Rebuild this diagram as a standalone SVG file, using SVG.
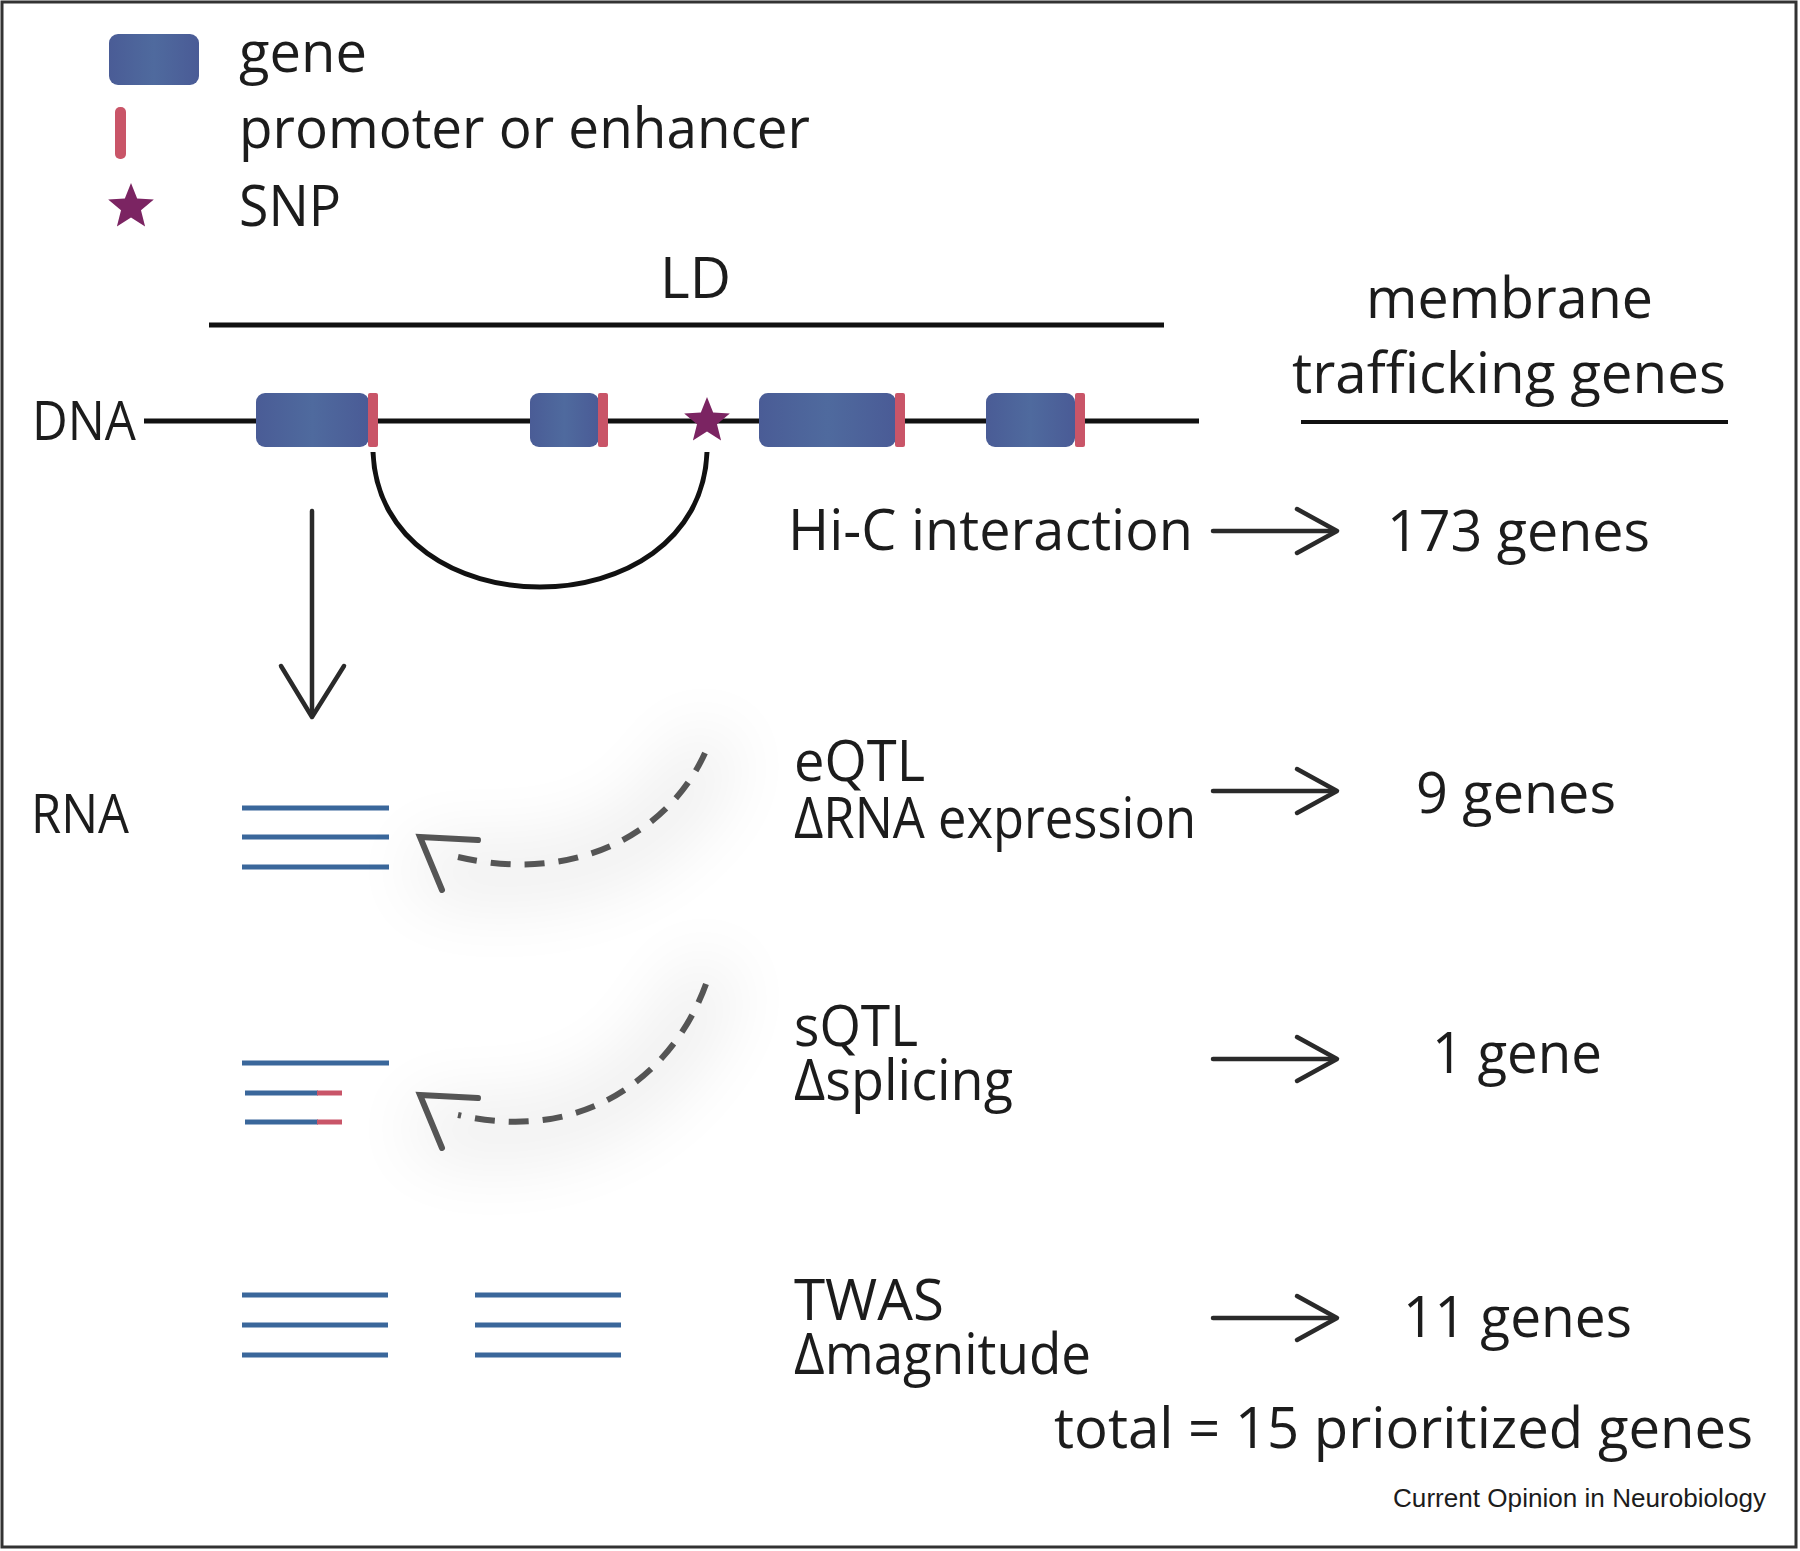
<svg xmlns="http://www.w3.org/2000/svg" width="1800" height="1551" viewBox="0 0 1800 1551">
<style>
.t{font-family:"Open Sans","Noto Sans","Liberation Sans",sans-serif;font-size:57px;fill:#1c1c1c}
.s{font-family:"Open Sans","Noto Sans","Liberation Sans",sans-serif;font-size:54px;fill:#1c1c1c}
.c{font-family:"Liberation Sans",Arial,sans-serif;font-size:25px;fill:#1c1c1c}
.blk{stroke:#111;stroke-width:5;fill:none}
.arr{stroke:#2a2a2a;stroke-width:4.5;fill:none;stroke-linecap:round;stroke-linejoin:round}
.gene{fill:url(#gg)}
.prom{fill:#c95568}
.snp{fill:#7b2462}
.rna{stroke:#3a679b;stroke-width:5}
.rnap{stroke:#c95568;stroke-width:5}
.dash{stroke:#555;stroke-width:6;fill:none;stroke-dasharray:20 14}
.ah{stroke:#555;stroke-width:6;fill:none;stroke-linecap:round;stroke-linejoin:miter}
.glow{stroke:#000;stroke-width:60;fill:none;opacity:0.07;filter:url(#blur);stroke-linecap:round}
</style>
<defs>
<linearGradient id="gg" x1="0" y1="0" x2="1" y2="0">
<stop offset="0" stop-color="#4a5c96"/>
<stop offset="0.5" stop-color="#4f6a9e"/>
<stop offset="1" stop-color="#4a5b96"/>
</linearGradient>
<polygon id="star" points="0,-24 6.17,-8.49 22.83,-7.42 9.99,3.24 14.11,19.42 0,10.5 -14.11,19.42 -9.99,3.24 -22.83,-7.42 -6.17,-8.49"/>
<filter id="blur" x="-100%" y="-100%" width="300%" height="300%"><feGaussianBlur stdDeviation="35"/></filter>
</defs>
<rect x="2" y="2" width="1794" height="1545" fill="#fff" stroke="#333" stroke-width="3"/>

<g id="legend">
<rect class="gene" x="109" y="34" width="90" height="51" rx="9"/>
<text class="t" x="239" y="72" textLength="128" lengthAdjust="spacingAndGlyphs">gene</text>
<rect class="prom" x="115" y="107" width="11" height="52" rx="5"/>
<text class="t" x="239" y="148" textLength="571" lengthAdjust="spacingAndGlyphs">promoter or enhancer</text>
<use href="#star" class="snp" x="131" y="207"/>
<text class="t" x="239" y="226" textLength="102" lengthAdjust="spacingAndGlyphs">SNP</text>
</g>

<g id="ld">
<text class="t" x="660" y="298" textLength="71" lengthAdjust="spacingAndGlyphs">LD</text>
<line class="blk" x1="209" y1="325" x2="1164" y2="325"/>
</g>

<g id="header">
<text class="t" x="1366" y="318" textLength="287" lengthAdjust="spacingAndGlyphs">membrane</text>
<text class="t" x="1292" y="393" textLength="434" lengthAdjust="spacingAndGlyphs">trafficking genes</text>
<line stroke="#111" stroke-width="4" x1="1301" y1="422" x2="1728" y2="422"/>
</g>

<g id="dna">
<text class="s" x="32" y="440" textLength="104" lengthAdjust="spacingAndGlyphs">DNA</text>
<line class="blk" x1="144" y1="421" x2="1199" y2="421"/>
<rect class="gene" x="256" y="393" width="113" height="54" rx="9"/>
<rect class="prom" x="368" y="393" width="10" height="54" rx="2"/>
<rect class="gene" x="530" y="393" width="69" height="54" rx="9"/>
<rect class="prom" x="598" y="393" width="10" height="54" rx="2"/>
<use href="#star" class="snp" x="707" y="421"/>
<rect class="gene" x="759" y="393" width="137" height="54" rx="9"/>
<rect class="prom" x="895" y="393" width="10" height="54" rx="2"/>
<rect class="gene" x="986" y="393" width="89" height="54" rx="9"/>
<rect class="prom" x="1075" y="393" width="10" height="54" rx="2"/>
</g>

<g id="rna-label">
<text class="s" x="31" y="833" textLength="98" lengthAdjust="spacingAndGlyphs">RNA</text>
</g>

<g id="eqtl-rna">
<line class="rna" x1="242" y1="808" x2="389" y2="808"/>
<line class="rna" x1="242" y1="837" x2="389" y2="837"/>
<line class="rna" x1="242" y1="867" x2="389" y2="867"/>
</g>

<g id="sqtl-rna">
<line class="rna" x1="242" y1="1063" x2="389" y2="1063"/>
<line class="rna" x1="245" y1="1093" x2="318" y2="1093"/>
<line class="rnap" x1="317" y1="1093" x2="342" y2="1093"/>
<line class="rna" x1="245" y1="1122" x2="318" y2="1122"/>
<line class="rnap" x1="317" y1="1122" x2="342" y2="1122"/>
</g>

<g id="twas-rna">
<line class="rna" x1="242" y1="1295" x2="388" y2="1295"/>
<line class="rna" x1="242" y1="1325" x2="388" y2="1325"/>
<line class="rna" x1="242" y1="1355" x2="388" y2="1355"/>
<line class="rna" x1="475" y1="1295" x2="621" y2="1295"/>
<line class="rna" x1="475" y1="1325" x2="621" y2="1325"/>
<line class="rna" x1="475" y1="1355" x2="621" y2="1355"/>
</g>

<g id="labels">
<text class="t" x="788" y="550" textLength="405" lengthAdjust="spacingAndGlyphs">Hi-C interaction</text>
<text class="t" x="1387" y="551" textLength="263" lengthAdjust="spacingAndGlyphs">173 genes</text>
<text class="t" x="794" y="781" textLength="131" lengthAdjust="spacingAndGlyphs">eQTL</text>
<text class="t" x="794" y="838" textLength="402" lengthAdjust="spacingAndGlyphs">ΔRNA expression</text>
<text class="t" x="1416" y="813" textLength="200" lengthAdjust="spacingAndGlyphs">9 genes</text>
<text class="t" x="794" y="1046" textLength="124" lengthAdjust="spacingAndGlyphs">sQTL</text>
<text class="t" x="794" y="1100" textLength="219" lengthAdjust="spacingAndGlyphs">Δsplicing</text>
<text class="t" x="1432" y="1073" textLength="170" lengthAdjust="spacingAndGlyphs">1 gene</text>
<text class="t" x="794" y="1320" textLength="150" lengthAdjust="spacingAndGlyphs">TWAS</text>
<text class="t" x="794" y="1374" textLength="297" lengthAdjust="spacingAndGlyphs">Δmagnitude</text>
<text class="t" x="1403" y="1337" textLength="229" lengthAdjust="spacingAndGlyphs">11 genes</text>
<text class="t" x="1054" y="1448" textLength="699" lengthAdjust="spacingAndGlyphs">total = 15 prioritized genes</text>
<text class="c" x="1393" y="1507" textLength="373" lengthAdjust="spacingAndGlyphs">Current Opinion in Neurobiology</text>
</g>

<g id="connectors">
<path class="blk" d="M373 452 C380 632 700 632 707 452"/>
<line class="arr" x1="312" y1="511" x2="312" y2="716"/>
<polyline class="arr" points="281,666 312,717 344,666"/>
<line class="arr" x1="1213" y1="531" x2="1335" y2="531"/>
<polyline class="arr" points="1297,509 1337,531 1297,553"/>
<line class="arr" x1="1213" y1="791" x2="1335" y2="791"/>
<polyline class="arr" points="1297,769 1337,791 1297,813"/>
<line class="arr" x1="1213" y1="1059" x2="1335" y2="1059"/>
<polyline class="arr" points="1297,1037 1337,1059 1297,1081"/>
<line class="arr" x1="1213" y1="1318" x2="1335" y2="1318"/>
<polyline class="arr" points="1297,1296 1337,1318 1297,1340"/>
<path class="glow" d="M705 760 C670 840 580 890 440 870"/>
<path class="glow" d="M705 990 C670 1080 580 1150 440 1128"/>
<path class="dash" d="M705 753 C670 830 580 885 458 857"/>
<polyline class="ah" points="478,840 420,837 442,890"/>
<path class="dash" d="M706 984 C675 1070 590 1145 458 1115"/>
<polyline class="ah" points="478,1098 420,1095 442,1148"/>
</g>
</svg>
